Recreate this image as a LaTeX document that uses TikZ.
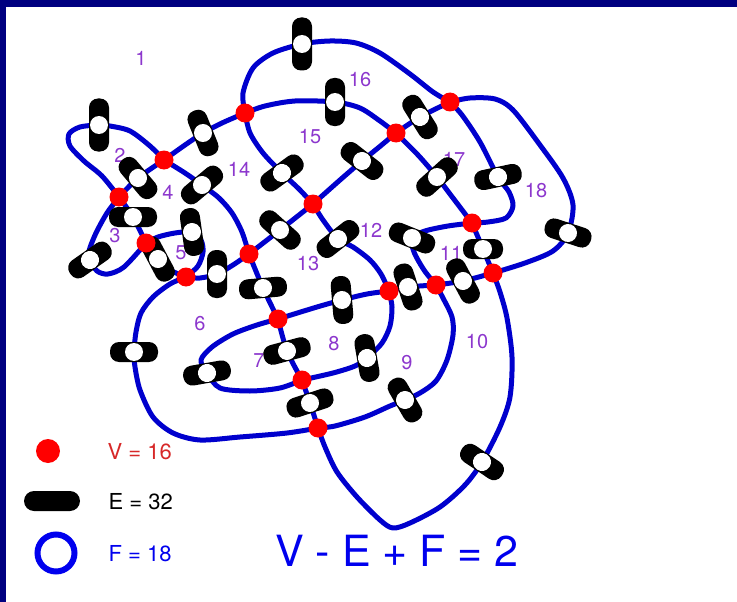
\documentclass[tikz,border=0pt]{standalone}
\usepackage{fontspec}
\setmainfont{TeX Gyre Heros}
\usepackage{tikz}
\usetikzlibrary{positioning, calc}
\definecolor{cornice}{RGB}{0,0,128}
\definecolor{curva}{RGB}{0,0,205}
\definecolor{viola}{RGB}{140,55,205}
\definecolor{rosso}{RGB}{215,40,40}
\definecolor{blu}{RGB}{0,0,238}

\begin{document}
\begin{tikzpicture}[x=1pt, y=-1pt,
    wire/.style={line width=5pt, draw=curva, line cap=round, line join=round},
    vertex/.style={circle, fill=red, minimum size=19pt, inner sep=0pt},
    pill/.style={rectangle, rounded corners=9pt, fill=black, minimum width=48pt,
        minimum height=20pt, inner sep=0pt,
        path picture={\fill[white] (path picture bounding box.center) circle (9pt);}},
    face/.style={text=viola, font=\fontsize{20}{20}\selectfont},
    legend/.style={anchor=west, font=\fontsize{22}{22}\selectfont}
]
\useasboundingbox (0,0) rectangle (737,602);

% Cornice
\fill[cornice] (0,0) rectangle (737,7);
\fill[cornice] (0,0) rectangle (6,602);

% Vertici
\coordinate (v1) at (245,113);
\coordinate (v2) at (164,160);
\coordinate (v3) at (119,197);
\coordinate (v4) at (146,243);
\coordinate (v5) at (186,277);
\coordinate (v6) at (249,254);
\coordinate (v7) at (313,204);
\coordinate (v8) at (396,133);
\coordinate (v9) at (450,102);
\coordinate (v10) at (472,223);
\coordinate (v11) at (493,273);
\coordinate (v12) at (436,285);
\coordinate (v13) at (389,291);
\coordinate (v14) at (278,319);
\coordinate (v15) at (302,380);
\coordinate (v16) at (318,428);

% Facce
\node[face] (f1) at (141,58) {1};
\node[face] (f2) at (120,155) {2};
\node[face] (f3) at (115,236) {3};
\node[face] (f4) at (168,192) {4};
\node[face] (f5) at (181,253) {5};
\node[face] (f6) at (200,324) {6};
\node[face] (f7) at (259,361) {7};
\node[face] (f8) at (334,344) {8};
\node[face] (f9) at (407,363) {9};
\node[face] (f10) at (477,342) {10};
\node[face] (f11) at (451,253) {11};
\node[face] (f12) at (371,230) {12};
\node[face] (f13) at (308,264) {13};
\node[face] (f14) at (239,169) {14};
\node[face] (f15) at (310,137) {15};
\node[face] (f16) at (360,80) {16};
\node[face] (f17) at (454,159) {17};
\node[face] (f18) at (536,191) {18};

% Spigoli
\draw[wire] plot[smooth] coordinates {(v1) (243,93) (253,68) (273,53) (302,44) (330,41) (356,43) (380,53) (410,74) (433,92) (v9)};
\draw[wire] plot[smooth] coordinates {(v1) (265,106) (295,101) (335,102) (360,108) (380,121) (v8)};
\draw[wire] plot[smooth] coordinates {(v8) (420,117) (v9)};
\draw[wire] plot[smooth] coordinates {(v9) (470,98) (495,99) (513,110) (540,145) (563,178) (573,205) (568,233) (553,251) (525,263) (v11)};
\draw[wire] plot[smooth] coordinates {(v9) (462,115) (480,142) (498,177) (509,192) (513,206) (506,218) (488,222) (v10)};
\draw[wire] plot[smooth] coordinates {(v8) (418,155) (437,177) (453,198) (v10)};
\draw[wire] plot[smooth] coordinates {(v8) (378,148) (362,161) (340,180) (v7)};
\draw[wire] plot[smooth] coordinates {(v1) (250,133) (263,153) (282,173) (299,189) (v7)};
\draw[wire] plot[smooth] coordinates {(v7) (280,230) (v6)};
\draw[wire] plot[smooth] coordinates {(v7) (323,220) (338,239) (353,247) (370,260) (381,274) (v13)};
\draw[wire] plot[smooth] coordinates {(v10) (448,226) (425,231) (412,238) (414,252) (424,270) (v12)};
\draw[wire] plot[smooth] coordinates {(v10) (483,249) (v11)};
\draw[wire] plot[smooth] coordinates {(v11) (463,281) (v12)};
\draw[wire] plot[smooth] coordinates {(v12) (408,287) (v13)};
\draw[wire] plot[smooth] coordinates {(v11) (500,292) (507,318) (512,357) (510,397) (500,427) (482,462) (465,485) (440,507) (410,523) (393,528) (380,520) (357,497) (337,472) (325,447) (v16)};
\draw[wire] plot[smooth] coordinates {(v12) (443,298) (452,317) (453,335) (447,360) (436,381) (420,393) (405,400) (390,406) (365,417) (335,426) (v16)};
\draw[wire] plot[smooth] coordinates {(v13) (392,307) (390,326) (382,343) (367,358) (355,366) (333,373) (v15)};
\draw[wire] plot[smooth] coordinates {(v13) (367,294) (342,300) (317,307) (v14)};
\draw[wire] plot[smooth] coordinates {(v6) (263,288) (v14)};
\draw[wire] plot[smooth] coordinates {(v14) (287,351) (v15)};
\draw[wire] plot[smooth] coordinates {(v14) (257,325) (233,334) (212,347) (201,360) (207,373) (220,388) (250,391) (280,388) (v15)};
\draw[wire] plot[smooth] coordinates {(v15) (310,403) (v16)};
\draw[wire] plot[smooth] coordinates {(v16) (287,433) (240,437) (200,440) (173,433) (153,417) (140,390) (135,367) (134,352) (136,332) (141,313) (153,297) (170,284) (v5)};
\draw[wire] plot[smooth] coordinates {(v5) (200,278) (217,274) (233,265) (v6)};
\draw[wire] plot[smooth] coordinates {(v6) (242,232) (232,213) (219,198) (202,185) (185,173) (v2)};
\draw[wire] plot[smooth] coordinates {(v1) (222,123) (203,133) (185,145) (v2)};
\draw[wire] plot[smooth] coordinates {(v2) (150,146) (130,131) (110,126) (99,125) (80,127) (69,134) (70,146) (84,161) (102,176) (v3)};
\draw[wire] plot[smooth] coordinates {(v2) (138,178) (v3)};
\draw[wire] plot[smooth] coordinates {(v3) (133,217) (v4)};
\draw[wire] plot[smooth] coordinates {(v3) (107,213) (96,233) (89,251) (90,260) (97,271) (108,274) (124,267) (v4)};
\draw[wire] plot[smooth] coordinates {(v4) (158,259) (170,270) (v5)};
\draw[wire] plot[smooth] coordinates {(v4) (158,237) (175,233) (192,232) (201,240) (203,252) (198,266) (v5)};

% Segni sugli spigoli
\node[pill, rotate=90, minimum width=53pt] (e1) at (302,44) {};
\node[pill, rotate=90] (e2) at (335,102) {};
\node[pill, rotate=-58] (e3) at (420,117) {};
\node[pill, rotate=-18] (e4) at (568,233) {};
\node[pill, rotate=12] (e5) at (498,177) {};
\node[pill, rotate=42] (e6) at (437,177) {};
\node[pill, rotate=-38] (e7) at (362,161) {};
\node[pill, rotate=36] (e8) at (282,173) {};
\node[pill, rotate=-42] (e9) at (280,230) {};
\node[pill, rotate=38] (e10) at (338,239) {};
\node[pill, rotate=-22] (e11) at (412,238) {};
\node[pill, rotate=0, minimum width=40pt] (e12) at (483,249) {};
\node[pill, rotate=-62] (e13) at (463,281) {};
\node[pill, rotate=-72] (e14) at (408,287) {};
\node[pill, rotate=-34] (e15) at (482,462) {};
\node[pill, rotate=-60] (e16) at (405,400) {};
\node[pill, rotate=-80] (e17) at (367,358) {};
\node[pill, rotate=-85] (e18) at (342,300) {};
\node[pill, rotate=5] (e19) at (263,288) {};
\node[pill, rotate=15] (e20) at (287,351) {};
\node[pill, rotate=10] (e21) at (207,373) {};
\node[pill, rotate=18] (e22) at (310,403) {};
\node[pill, rotate=0] (e23) at (134,352) {};
\node[pill, rotate=90] (e24) at (217,274) {};
\node[pill, rotate=40] (e25) at (202,185) {};
\node[pill, rotate=-68] (e26) at (203,133) {};
\node[pill, rotate=90, minimum width=53pt] (e27) at (99,125) {};
\node[pill, rotate=-50] (e28) at (138,178) {};
\node[pill, rotate=0] (e29) at (133,217) {};
\node[pill, rotate=35] (e30) at (90,260) {};
\node[pill, rotate=-62] (e31) at (158,259) {};
\node[pill, rotate=-82] (e32) at (192,232) {};

% Punti rossi
\node[vertex] (d1) at (v1) {};
\node[vertex] (d2) at (v2) {};
\node[vertex] (d3) at (v3) {};
\node[vertex] (d4) at (v4) {};
\node[vertex] (d5) at (v5) {};
\node[vertex] (d6) at (v6) {};
\node[vertex] (d7) at (v7) {};
\node[vertex] (d8) at (v8) {};
\node[vertex] (d9) at (v9) {};
\node[vertex] (d10) at (v10) {};
\node[vertex] (d11) at (v11) {};
\node[vertex] (d12) at (v12) {};
\node[vertex] (d13) at (v13) {};
\node[vertex] (d14) at (v14) {};
\node[vertex] (d15) at (v15) {};
\node[vertex] (d16) at (v16) {};

% Legenda
\node[circle, fill=red, minimum size=24pt, inner sep=0pt] (lv) at (48,451) {};
\node[legend, text=rosso] (tv) at (104,452) {V = 16};
\node[rectangle, rounded corners=10pt, fill=black, minimum width=56pt, minimum height=20pt, inner sep=0pt] (le) at (52,501) {};
\node[legend, text=black] (te) at (105,502) {E = 32};
\node[circle, draw=blu, line width=6pt, minimum size=37pt, inner sep=0pt] (lf) at (56,553) {};
\node[legend, text=blu] (tf) at (105,554) {F = 18};
\node[text=blu, font=\fontsize{43}{43}\selectfont] (euler) at (397,551) {V - E + F = 2};

\end{tikzpicture}
\end{document}
